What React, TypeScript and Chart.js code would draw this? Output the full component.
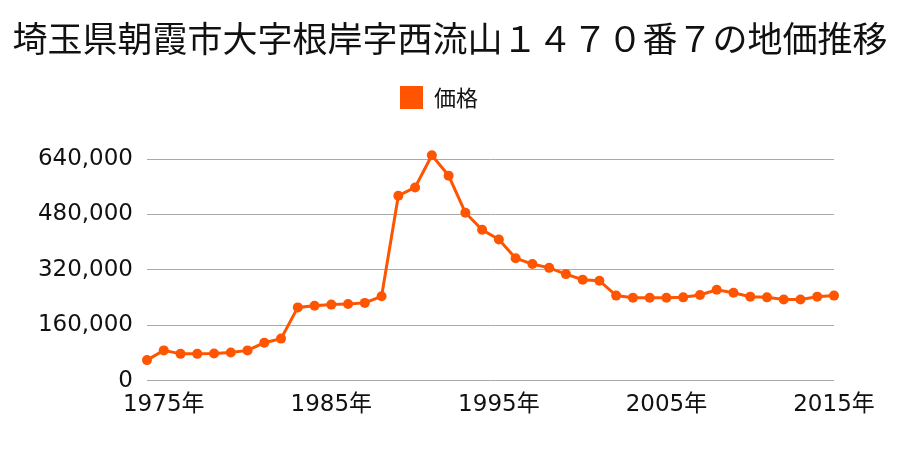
import React, { useEffect, useRef } from "react";
import { Chart, registerables } from "chart.js";

Chart.register(...registerables);

const TITLE = "埼玉県朝霞市大字根岸字西流山１４７０番７の地価推移";
const SERIES_LABEL = "価格";

const years: number[] = [
  1974, 1975, 1976, 1977, 1978, 1979, 1980, 1981, 1982, 1983,
  1984, 1985, 1986, 1987, 1988, 1989, 1990, 1991, 1992, 1993,
  1994, 1995, 1996, 1997, 1998, 1999, 2000, 2001, 2002, 2003,
  2004, 2005, 2006, 2007, 2008, 2009, 2010, 2011, 2012, 2013,
  2014, 2015,
];

const prices: number[] = [
  60000, 88000, 78000, 78000, 79000, 82000, 88000, 110000, 122000, 212000,
  217000, 220000, 222000, 225000, 244000, 534000, 558000, 651000, 592000, 485000,
  436000, 408000, 354000, 337000, 326000, 308000, 292000, 289000, 246000, 240000,
  240000, 240000, 241000, 248000, 263000, 254000, 243000, 241000, 235000, 235000,
  243000, 246000,
];

const labeledYears: number[] = [1975, 1985, 1995, 2005, 2015];

const yTicks: number[] = [0, 160000, 320000, 480000, 640000];

const ORANGE = "rgb(255,85,0)";
const AXIS_FONT = "'DejaVu Sans', 'Noto Sans CJK JP', sans-serif";
const CJK_FONT = "'Noto Sans CJK JP', sans-serif";

const legendSpacer = {
  id: "legendSpacer",
  beforeInit(chart: any) {
    const legend = chart.legend;
    if (!legend) return;
    const origFit = legend.fit;
    legend.fit = function (this: any) {
      origFit.call(this);
      this.height += 40;
    };
  },
};

export default function App() {
  const canvasRef = useRef<HTMLCanvasElement | null>(null);

  useEffect(() => {
    if (!canvasRef.current) return;
    const chart = new Chart(canvasRef.current, {
      type: "line",
      data: {
        labels: years.map((y) => String(y)),
        datasets: [
          {
            label: SERIES_LABEL,
            data: prices,
            borderColor: ORANGE,
            backgroundColor: ORANGE,
            borderWidth: 3,
            pointRadius: 5,
            pointHoverRadius: 5,
            pointBackgroundColor: ORANGE,
            pointBorderWidth: 0,
            tension: 0,
            clip: false as any,
          },
        ],
      },
      plugins: [legendSpacer],
      options: {
        responsive: true,
        maintainAspectRatio: false,
        animation: false,
        layout: { padding: { left: 0, right: 0, top: 0, bottom: 21.5 } },
        plugins: {
          title: {
            display: true,
            text: TITLE,
            color: "#111",
            font: { family: CJK_FONT, size: 35, weight: "normal" },
            padding: { top: 18, bottom: 14 },
          },
          legend: {
            display: true,
            labels: {
              boxWidth: 23,
              boxHeight: 23,
              color: "#111",
              font: { family: CJK_FONT, size: 22 },
              padding: 12,
              generateLabels: (c: any) => {
                const items = Chart.defaults.plugins.legend.labels.generateLabels(c);
                return items.map((it: any) => ({ ...it, text: it.text + "　", lineWidth: 0 }));
              },
            },
          },
          tooltip: { enabled: false },
        },
        scales: {
          x: {
            type: "category",
            offset: false,
            grid: { display: false, drawTicks: false },
            border: { display: false },
            afterFit: (axis: any) => {
              axis.paddingRight = 66;
              axis.paddingLeft = 0;
            },
            ticks: {
              autoSkip: false,
              maxRotation: 0,
              minRotation: 0,
              padding: 10,
              color: "#111",
              font: { family: AXIS_FONT, size: 23 },
              callback: (_v: any, i: number) =>
                labeledYears.includes(years[i]) ? years[i] + "年" : "",
            },
          },
          y: {
            min: yTicks[0],
            max: yTicks[yTicks.length - 1],
            grid: { color: "#aaaaaa", lineWidth: 1, drawTicks: false },
            border: { display: false },
            afterBuildTicks: (axis: any) => {
              axis.ticks = yTicks.map((v) => ({ value: v }));
            },
            afterFit: (axis: any) => {
              axis.width = 147;
            },
            ticks: {
              padding: 14,
              color: "#111",
              font: { family: AXIS_FONT, size: 23 },
              callback: (v: any) => Number(v).toLocaleString("en-US"),
            },
          },
        },
      },
    });
    return () => chart.destroy();
  }, []);

  return (
    <div style={{ position: "fixed", left: 0, top: 0, width: 900, height: 450, background: "#fff" }}>
      <canvas ref={canvasRef} />
    </div>
  );
}
